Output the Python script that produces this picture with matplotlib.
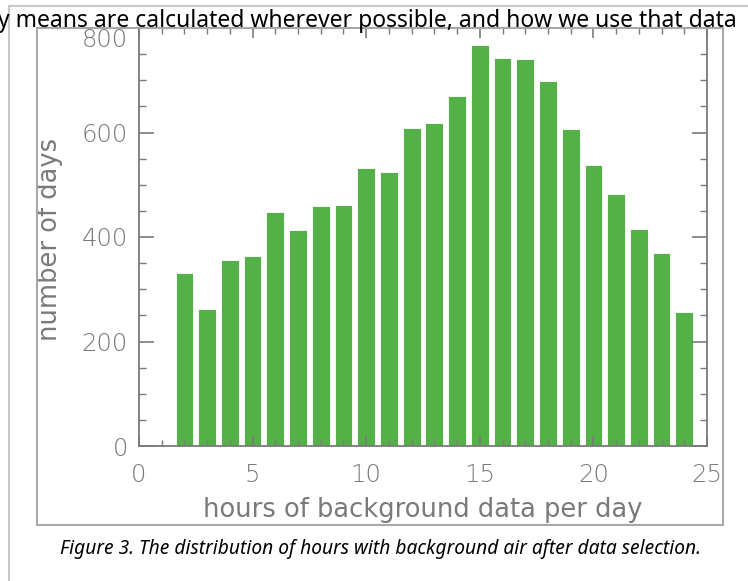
import matplotlib.pyplot as plt
from matplotlib.patches import Rectangle
from matplotlib.lines import Line2D
from matplotlib.ticker import MultipleLocator

# hours of background data per day, and number of days with that many hours
hours = [2, 3, 4, 5, 6, 7, 8, 9, 10, 11, 12, 13,
         14, 15, 16, 17, 18, 19, 20, 21, 22, 23, 24]
days = [331, 262, 356, 364, 448, 413, 460, 461, 533, 524, 609, 619,
        669, 768, 742, 741, 699, 606, 538, 482, 416, 370, 256]
xticks = [0, 5, 10, 15, 20, 25]
yticks = [0, 200, 400, 600, 800]

gray = '#7a7a7a'
green = '#54b147'
W, H = 748, 581

fig = plt.figure(figsize=(W / 100, H / 100), dpi=100)

# page furniture: outer page frame and the image border
fig.add_artist(Line2D([9 / W, 1], [1 - 6 / H, 1 - 6 / H], color='#c8c8c8', lw=1.5))
fig.add_artist(Line2D([9 / W, 9 / W], [0, 1 - 6 / H], color='#c8c8c8', lw=1.5))
fig.add_artist(Rectangle((37 / W, 1 - 525 / H), (723 - 37) / W, (525 - 28) / H,
                         fill=False, edgecolor='#a8a8a8', lw=1.5))

ax = fig.add_axes([139 / W, 1 - 446 / H, (707 - 139) / W, (446 - 28) / H])
ax.bar(hours, days, width=0.78, color=green, edgecolor='white', linewidth=0.6)
ax.set_xlim(0, 25)
ax.set_ylim(0, 800)
ax.set_xticks(xticks)
ax.set_yticks(yticks)
ax.xaxis.set_minor_locator(MultipleLocator(1))
ax.yaxis.set_minor_locator(MultipleLocator(50))

for s in ax.spines.values():
    s.set_color(gray)
    s.set_linewidth(1.3)

lab_font = dict(family='DejaVu Sans', size=18.5, color=gray)
ax.tick_params(which='both', direction='in', colors=gray, top=True, right=True)
ax.tick_params(axis='y', which='major', length=11, width=1.2, pad=8, labelsize=17.5)
ax.tick_params(axis='y', which='minor', length=5, width=1)
ax.tick_params(axis='x', which='major', length=7, width=1.2, pad=12, labelsize=17.5)
ax.tick_params(axis='x', which='minor', length=4, width=1)
for t in ax.get_xticklabels() + ax.get_yticklabels():
    t.set_fontfamily('DejaVu Sans')
    t.set_fontweight('light')
ax.get_yticklabels()[-1].set_va('top')

ax.set_xlabel('hours of background data per day', **lab_font)
ax.set_ylabel('number of days', **lab_font)
ax.xaxis.set_label_coords(0.5, -0.153)
ax.xaxis.label.set_va('center')
ax.yaxis.set_label_coords(-0.157, 0.493)
ax.yaxis.label.set_va('center')

# surrounding page text
fig.text(737 / W, 1 - 21 / H,
         'daily means are calculated wherever possible, and how we use that data',
         ha='right', va='center', fontsize=16.5, family='Noto Sans', color='black')
fig.text(381 / W, 1 - 549 / H,
         'Figure 3. The distribution of hours with background air after data selection.',
         ha='center', va='center', fontsize=13.8, family='Noto Sans', style='italic',
         color='black')

fig.savefig('out.png', dpi=100)
